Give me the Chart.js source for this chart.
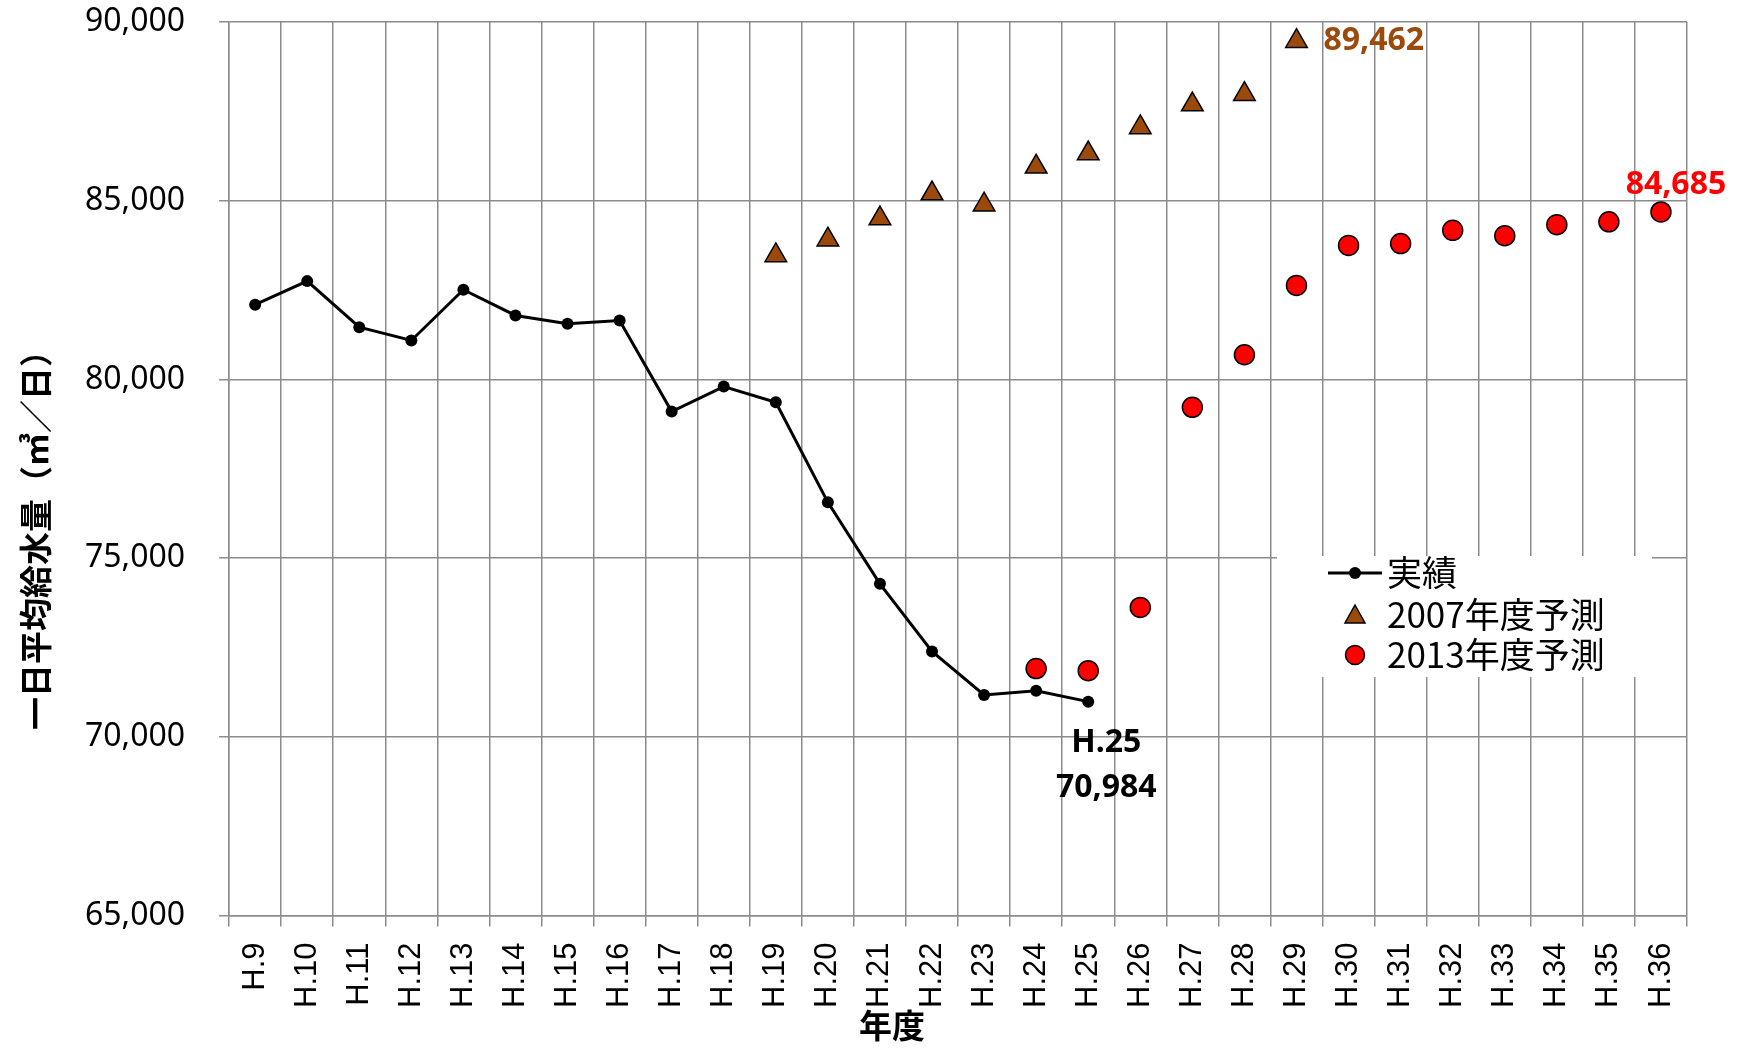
<!DOCTYPE html>
<html lang="ja">
<head>
<meta charset="utf-8">
<title>一日平均給水量</title>
<script src="https://cdn.jsdelivr.net/npm/chart.js@4.4.1/dist/chart.umd.min.js"></script>
<style>
  html, body { margin: 0; padding: 0; background: #fff; }
  #wrap { width: 1747px; height: 1049px; }
</style>
</head>
<body>
<div id="wrap"><canvas id="waterChart" width="1747" height="1049"></canvas></div>
<script>
// 年度 (category labels)
const years = ["H.9", "H.10", "H.11", "H.12", "H.13", "H.14", "H.15", "H.16", "H.17", "H.18",
               "H.19", "H.20", "H.21", "H.22", "H.23", "H.24", "H.25", "H.26", "H.27", "H.28",
               "H.29", "H.30", "H.31", "H.32", "H.33", "H.34", "H.35", "H.36"];

// 実績 H.9 - H.25
const actual = [82090, 82750, 81460, 81090, 82510, 81790, 81560, 81650, 79100, 79800,
                79360, 76560, 74280, 72390, 71170, 71290, 70984];

// 2007年度予測 H.19 - H.29
const forecast2007 = [83470, 83910, 84500, 85200, 84890, 85950, 86320, 87050, 87690, 87980, 89462];

// 2013年度予測 H.24 - H.36
const forecast2013 = [71910, 71850, 73620, 79220, 80690, 82630, 83750, 83800, 84170, 84020,
                      84330, 84410, 84685];

const yTicks = [65000, 70000, 75000, 80000, 85000, 90000];

// put each series on the full year axis
function placeAt(startLabel, values) {
    const start = years.indexOf(startLabel);
    return years.map((_, i) => (i >= start && i - start < values.length) ? values[i - start] : null);
}

const fmt = v => v.toLocaleString("en-US");
const BROWN = "#9C4A0C";

Chart.defaults.font.family = "'Noto Sans', 'Noto Sans CJK JP', sans-serif";
Chart.defaults.color = "#000";

const extras = {
    id: "extras",
    afterDraw(chart) {
        const ctx = chart.ctx;
        const xs = chart.scales.x, ys = chart.scales.y;
        ctx.save();

        // axis titles
        ctx.fillStyle = "#000";
        ctx.font = "bold 33px 'Noto Sans CJK JP'";
        ctx.textAlign = "center";
        ctx.textBaseline = "middle";
        ctx.save();
        ctx.translate(35, 532);
        ctx.rotate(-Math.PI / 2);
        ctx.fillText("一日平均給水量（㎥／日）", 0, 0);
        ctx.restore();
        ctx.fillText("年度", 892, 1025);

        // value notes
        ctx.font = "bold 32px 'Noto Sans'";
        const i29 = years.indexOf("H.29");
        const last07 = forecast2007[forecast2007.length - 1];
        ctx.fillStyle = BROWN;
        ctx.textAlign = "left";
        ctx.fillText(fmt(last07), xs.getPixelForValue(i29) + 27, ys.getPixelForValue(last07));

        const i36 = years.indexOf("H.36");
        const last13 = forecast2013[forecast2013.length - 1];
        ctx.fillStyle = "#ff0000";
        ctx.textAlign = "center";
        ctx.fillText(fmt(last13), xs.getPixelForValue(i36) + 15, ys.getPixelForValue(last13) - 27);

        const i25 = years.indexOf("H.25");
        const last = actual[actual.length - 1];
        ctx.fillStyle = "#000";
        ctx.fillText("H.25", xs.getPixelForValue(i25) + 18, ys.getPixelForValue(last) + 41);
        ctx.fillText(fmt(last), xs.getPixelForValue(i25) + 18, ys.getPixelForValue(last) + 86);

        // legend box
        ctx.fillStyle = "#fff";
        ctx.fillRect(1277, 556, 375, 121);
        const rows = [573, 615, 655];
        ctx.strokeStyle = "#000";
        ctx.lineWidth = 3;
        ctx.beginPath();
        ctx.moveTo(1328, rows[0]);
        ctx.lineTo(1382, rows[0]);
        ctx.stroke();
        ctx.fillStyle = "#000";
        ctx.beginPath();
        ctx.arc(1355, rows[0], 6, 0, Math.PI * 2);
        ctx.fill();

        ctx.lineWidth = 1.5;
        ctx.fillStyle = BROWN;
        ctx.beginPath();
        ctx.moveTo(1355, rows[1] - 10);
        ctx.lineTo(1365, rows[1] + 8);
        ctx.lineTo(1345, rows[1] + 8);
        ctx.closePath();
        ctx.fill();
        ctx.stroke();

        ctx.fillStyle = "#ff0000";
        ctx.beginPath();
        ctx.arc(1355, rows[2], 9.5, 0, Math.PI * 2);
        ctx.fill();
        ctx.stroke();

        ctx.fillStyle = "#000";
        ctx.font = "35px 'Noto Sans CJK JP'";
        ctx.textAlign = "left";
        const names = chart.data.datasets.map(d => d.label);
        names.forEach((n, k) => ctx.fillText(n, 1387, rows[k]));

        ctx.restore();
    }
};

const canvas = document.getElementById("waterChart");
new Chart(canvas.getContext("2d"), {
    type: "line",
    data: {
        labels: years,
        datasets: [
            {
                label: "実績",
                data: placeAt("H.9", actual),
                borderColor: "#000",
                backgroundColor: "#000",
                borderWidth: 3,
                pointRadius: 6,
                pointBackgroundColor: "#000",
                pointBorderWidth: 0,
                tension: 0,
                spanGaps: false
            },
            {
                label: "2007年度予測",
                data: placeAt("H.19", forecast2007),
                showLine: false,
                pointStyle: "triangle",
                pointRadius: 12.5,
                pointBackgroundColor: BROWN,
                pointBorderColor: "#000",
                pointBorderWidth: 1.5
            },
            {
                label: "2013年度予測",
                data: placeAt("H.24", forecast2013),
                showLine: false,
                pointStyle: "circle",
                pointRadius: 10,
                pointBackgroundColor: "#ff0000",
                pointBorderColor: "#000",
                pointBorderWidth: 1.5
            }
        ]
    },
    options: {
        responsive: false,
        animation: false,
        clip: false,
        layout: { autoPadding: false, padding: { left: 51, right: 60, top: 22, bottom: 25 } },
        plugins: {
            legend: { display: false },
            tooltip: { enabled: false }
        },
        scales: {
            x: {
                offset: true,
                grid: { offset: true, color: "#8c8c8c", lineWidth: 1.5, tickLength: 11 },
                border: { color: "#8c8c8c", width: 1.5 },
                ticks: {
                    font: { family: "Liberation Sans, Arial, sans-serif", size: 31 },
                    minRotation: 90,
                    maxRotation: 90,
                    padding: 16,
                    autoSkip: false
                }
            },
            y: {
                min: 65000,
                max: 90000,
                afterBuildTicks: axis => { axis.ticks = yTicks.map(v => ({ value: v })); },
                // the wide tick padding should not push the plot area down
                afterFit: axis => { axis.paddingTop = 0; axis.paddingBottom = 0; },
                grid: { color: "#8c8c8c", lineWidth: 1.5, tickLength: 10 },
                border: { color: "#8c8c8c", width: 1.5 },
                ticks: {
                    font: { size: 32 },
                    padding: 34,
                    callback: v => fmt(v)
                }
            }
        }
    },
    plugins: [extras]
});
</script>
</body>
</html>
